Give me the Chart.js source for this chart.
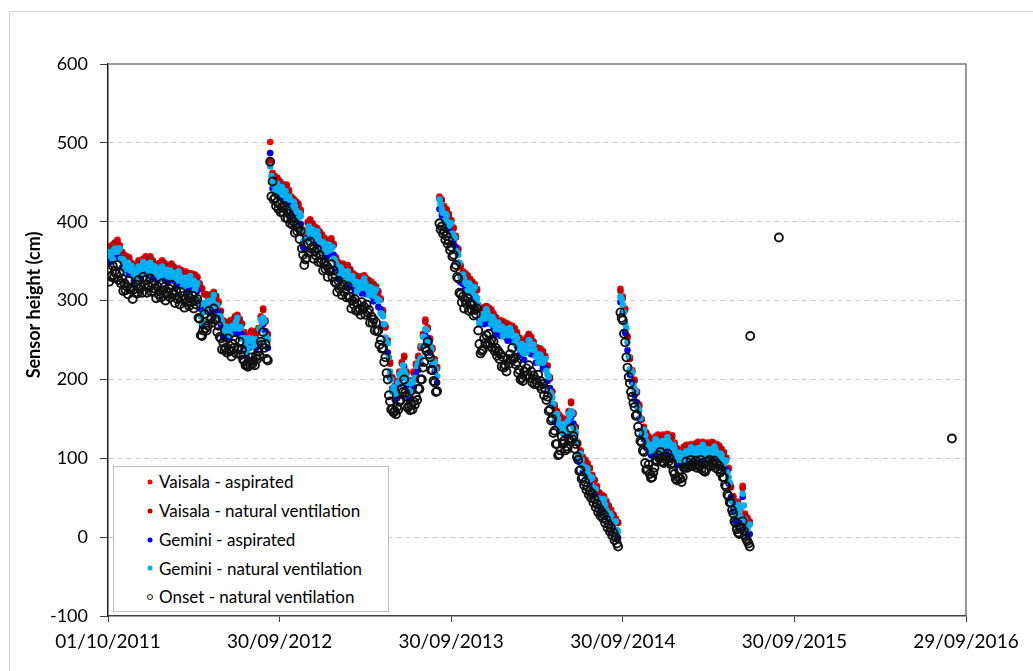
<!DOCTYPE html>
<html>
<head>
<meta charset="utf-8">
<title>Sensor height</title>
<script src="https://cdn.jsdelivr.net/npm/chart.js@4.4.1/dist/chart.umd.min.js"></script>
<style>
  html, body { margin: 0; padding: 0; background: #fff; }
  #wrap { position: relative; width: 1033px; height: 671px; overflow: hidden; background: #fff; }
  #frame { position: absolute; left: 9px; top: 11px; width: 1100px; height: 700px; border-left: 1px solid #d6d6d6; border-top: 1px solid #d6d6d6; }
  #chart { position: absolute; left: 0; top: 0; }
  #legend { position: absolute; left: 113px; top: 466px; width: 274px; height: 144px; border: 1px solid #bfbfbf; background: #fff;
            font-family: Lato, "Open Sans", sans-serif; font-size: 17px; color: #000; }
  #legend .row { position: absolute; left: 0; height: 29px; line-height: 29px; white-space: nowrap; }
  #legend .mk { position: absolute; top: 50%; border-radius: 50%; transform: translate(-50%, -50%); }
  #legend .txt { position: absolute; left: 45px; top: 0; }
</style>
</head>
<body>
<div id="wrap">
  <div id="frame"></div>
  <canvas id="chart" width="1033" height="671"></canvas>
  <div id="legend"></div>
</div>
<script>
// Day offsets counted from 01/10/2011; readings every 5 days within each record segment
const sampleStepDays = 5;
const halfStepDays = 2.5;
const segmentStartDays = [0, 345, 705, 1090];

const xTickDays = [0, 365, 730, 1095, 1460, 1825];
const xTickLabels = ['01/10/2011', '30/09/2012', '30/09/2013', '30/09/2014', '30/09/2015', '29/09/2016'];
const yTitle = 'Sensor height (cm)';

const seriesNames = [
  'Vaisala - aspirated',
  'Vaisala - natural ventilation',
  'Gemini - aspirated',
  'Gemini - natural ventilation',
  'Onset - natural ventilation'
];

// Vaisala, aspirated (cm)
const vaisalaAspirated = [
  [366,369,371,374,377,370,362,358,356,355, 348,344,346,351,350,353,356,353,356,351,
   347,345,348,351,348,343,345,347,343,340, 341,339,336,337,335,335,334,333,330,322,
   316,309,308,307,308,311,306,299,287,275, 271,273,275,276,280,282,277,271,260,250,
   256,262,261,258,265,280,290,275,258],
  [501,462,458,456,452,448,446,447,440,432, 429,426,423,415,390,380,400,403,398,394,
   392,388,384,380,377,375,379,372,355,349, 346,347,343,345,340,335,333,331,330,331,
   332,328,326,324,321,318,312,303,288,268, 250,222,203,192,198,210,222,230,210,197,
   199,210,220,230,242,258,276,266,252,240, 226,216],
  [432,428,420,416,410,402,393,382,366,345, 337,335,332,328,324,321,315,290,289,292,
   293,291,289,284,279,276,275,274,272,271, 269,268,265,260,253,249,245,253,258,254,
   248,241,240,239,236,230,218,203,185,168, 160,155,152,149,150,160,172,158,140,120,
   110,102,98,94,88,79,73,65,57,54, 52,46,40,35,29,24,19],
  [315,305,290,255,228,212,200,185,168,150, 140,133,128,122,125,128,130,127,130,128,
   131,127,129,120,113,111,110,115,117,114, 118,116,119,121,118,121,119,120,117,121,
   119,118,116,112,108,101,88,65,52,42, 45,38,65,30,25,20]
];

// Vaisala, natural ventilation (cm)
const vaisalaNatural = [
  [364,368,369,373,375,369,361,356,355,353, 347,343,344,349,349,352,354,352,354,350,
   346,343,347,349,347,342,343,346,342,339, 339,338,335,335,334,333,333,331,329,320,
   315,308,306,306,307,309,305,297,286,274, 270,271,274,275,278,281,276,270,258,249,
   255,260,260,257,263,278,288,273,257],
  [476,460,456,455,450,447,444,446,438,431, 427,425,421,413,388,378,398,401,397,392,
   390,387,382,378,376,373,377,370,353,347, 345,345,342,343,339,333,332,329,329,329,
   331,326,325,322,320,316,310,301,286,266, 248,220,201,190,196,208,220,228,208,195,
   197,208,218,228,240,256,273,264,250,238, 224,214],
  [430,427,418,415,408,401,391,380,364,343, 336,333,331,326,323,319,313,288,288,290,
   292,289,288,282,278,274,274,272,271,269, 268,266,264,258,252,247,244,251,257,252,
   247,239,239,237,235,228,217,201,184,166, 159,153,151,147,149,158,170,156,139,118,
   109,100,97,92,87,77,72,63,56,52, 51,44,39,33,28,22,18],
  [312,303,288,253,226,210,198,183,166,149, 138,131,126,121,123,126,128,125,128,126,
   129,126,127,118,112,109,108,113,115,112, 116,114,117,119,116,119,117,118,115,119,
   117,116,114,110,106,99,86,63,50,40, 43,36,62,28,23,18]
];

// Gemini, aspirated (cm)
const geminiAspirated = [
  [350,349,357,356,355,354,342,344,338,333, 332,324,332,333,328,337,336,339,338,329,
   331,325,334,333,326,327,325,333,325,318, 325,319,322,319,313,319,314,319,312,290,
   268,289,294,289,286,295,286,285,269,253, 255,253,261,258,258,266,257,257,242,228,
   240,242,247,240,243,264,270,261,240],
  [487,442,444,438,430,432,426,433,422,410, 413,406,409,397,368,364,380,389,380,372,
   376,368,370,362,355,359,359,358,337,327, 330,327,329,327,318,319,313,317,312,309,
   316,308,312,306,299,302,292,289,270,246, 234,202,189,174,176,194,202,216,192,175,
   183,190,206,212,220,242,256,252,234,218, 210,196],
  [416,408,406,398,388,386,373,368,348,323, 321,315,318,310,302,305,295,276,271,270,
   277,271,275,266,257,260,255,260,254,249, 253,248,251,242,231,233,225,239,240,232,
   232,221,226,221,214,214,198,189,167,146, 144,135,138,131,128,144,152,144,122,98,
   94,82,84,76,66,63,53,51,39,32, 36,26,26,17,7,8,-1],
  [298,285,259,237,206,196,180,171,150,128, 124,113,114,104,103,112,110,113,112,106,
   115,107,115,102,91,95,90,101,99,92, 102,96,105,103,96,105,99,106,99,99,
   103,98,102,94,86,85,68,51,34,20, 29,18,51,12,3,4]
];

// Gemini, natural ventilation (cm): grid-date readings
const geminiNatural = [
  [362,357,352,366,362,366,350,339,348,340, 344,332,327,343,335,349,344,334,348,336,
   343,333,329,343,333,339,333,328,335,325, 337,327,317,329,320,331,322,314,322,295,
   272,297,289,299,293,307,294,280,279,260, 267,261,256,268,265,278,265,252,252,235,
   252,250,242,250,250,276,278,256,250],
  [470,450,439,448,437,444,434,428,432,417, 425,414,404,407,375,376,388,384,390,379,
   388,376,365,372,362,371,367,353,347,334, 342,335,324,337,325,331,321,312,322,316,
   328,316,307,316,306,314,300,284,280,253, 246,210,184,184,183,206,210,211,202,182,
   195,198,201,222,227,254,264,247,244,225, 222,204],
  [428,416,401,408,395,398,381,363,358,330, 333,323,313,320,309,317,303,271,281,277,
   289,279,270,276,264,272,263,255,264,256, 265,256,246,252,238,245,233,234,250,239,
   244,229,221,231,221,226,206,184,177,153, 156,143,133,141,135,156,160,139,132,105,
   106,90,79,86,73,75,61,46,49,39, 48,34,21,27,14,20,7],
  [305,295,271,247,213,208,188,166,160,135, 136,121,109,114,110,124,118,108,122,113,
   127,115,110,112,98,107,98,96,109,99, 114,104,100,113,103,117,107,101,109,106,
   115,106,97,104,93,97,76,46,44,27, 41,26,55,22,10,16]
];
// Gemini, natural ventilation (cm): readings halfway between grid dates
const geminiNaturalHalfStep = [
  [360,357,364,362,366,353,352,344,348,338, 338,332,340,337,343,341,346,341,345,336,
   338,333,341,336,337,331,338,332,333,327, 332,324,328,323,327,321,325,318,300,280,
   285,295,299,294,301,295,294,280,273,260, 264,261,267,265,273,266,266,252,247,240,
   251,248,251,248,264,272,274,253],
  [458,447,449,441,442,434,439,431,428,418, 420,412,411,390,377,377,394,388,388,380,
   382,373,374,366,368,364,368,351,344,335, 339,332,336,330,330,321,324,318,323,319,
   322,314,317,310,312,302,300,283,270,246, 228,200,190,182,196,203,218,207,196,185,
   197,202,217,223,242,254,263,246,238,220, 213],
  [422,411,410,400,398,385,380,361,348,328, 328,321,322,313,315,305,295,277,283,280,
   284,277,279,269,270,263,267,260,264,257, 261,254,255,244,243,234,241,243,248,238,
   237,228,232,225,225,211,203,181,169,151, 150,141,143,137,147,153,157,136,122,102,
   98,87,88,78,76,63,61,48,48,40, 41,30,30,19,19,9],
  [302,285,265,229,212,193,185,164,151,132, 129,118,117,111,119,116,121,116,121,117,
   121,115,117,104,104,98,105,103,108,103, 109,105,112,107,112,107,112,106,111,107,
   111,104,106,97,97,82,69,46,39,31, 34,39,40,15,15]
];

// Onset, natural ventilation (cm): grid-date readings
const onsetNatural = [
  [340,331,344,338,345,335,328,322,318,325, 316,314,320,326,318,330,326,320,328,322,
   315,318,312,322,317,310,315,320,309,312, 305,311,306,302,308,303,306,300,302,277,
   255,283,262,287,278,290,276,268,252,247, 240,252,236,245,250,240,248,238,224,219,
   222,228,224,230,235,248,260,245,224],
  [476,451,430,425,422,418,420,415,410,405, 400,396,392,388,358,352,372,375,368,362,
   365,358,352,348,344,340,346,338,322,325, 318,320,314,318,305,300,302,296,290,298,
   292,295,288,280,276,272,262,250,240,228, 200,172,162,160,165,172,188,200,178,166,
   168,172,178,188,200,215,240,248,228,212, 196,185],
  [398,394,388,382,376,368,358,345,328,308, 305,300,303,296,294,288,290,245,236,252,
   256,258,250,248,240,236,232,228,218,226, 232,240,228,222,212,202,210,214,218,210,
   205,200,206,198,194,188,178,162,150,135, 118,105,128,122,115,125,138,128,118,98,
   85,76,70,64,58,55,48,42,36,32, 28,22,16,12,6,0,-12],
  [285,275,247,215,195,178,165,155,132,120, 108,85,92,75,82,98,104,108,95,102,
   106,100,94,80,72,85,70,88,96,90, 98,94,97,92,98,94,83,96,98,95,
   97,93,90,85,76,64,52,44,30,18, 6,12,20,2,-5,-12]
];
// Onset, natural ventilation (cm): readings halfway between grid dates
const onsetNaturalHalfStep = [
  [324,330,329,334,326,322,312,313,308,314, 302,310,309,315,310,320,310,317,311,312,
   303,308,304,313,300,306,304,308,297,302, 295,302,291,298,293,298,290,295,278,256,
   262,265,268,276,272,276,260,254,238,237, 234,238,229,240,233,238,231,225,218,216,
   218,220,218,226,230,244,240,226],
  [432,428,420,416,412,412,405,404,398,396, 386,388,378,366,345,354,361,366,353,357,
   349,349,338,340,330,337,330,324,311,315, 307,311,304,305,290,295,287,287,282,289,
   282,285,272,272,262,261,244,239,222,208, 180,162,158,156,162,174,184,183,164,161,
   162,168,174,188,200,222,236,232,212,198, 184],
  [390,385,377,372,364,356,342,330,310,298, 290,296,287,289,281,283,262,233,238,246,
   245,246,240,236,230,226,216,215,210,220, 225,226,219,208,200,198,204,206,202,196,
   194,195,192,188,180,174,160,148,132,118, 104,110,118,110,112,122,124,112,102,84,
   74,66,60,54,50,44,38,32,27,24, 18,12,7,2,-4,-8],
  [278,258,228,203,184,170,154,140,122,110, 94,86,80,76,88,96,100,96,94,98,
   96,92,84,74,76,74,76,88,88,90, 90,91,88,90,86,84,86,92,90,92,
   88,86,82,76,66,54,44,34,20,10, 4,12,8,-2,-8]
];
// Isolated Onset readings after the main record
const onsetLateDays = [1366, 1427, 1795];
const onsetLateValues = [255, 380, 125];

function toPoints(segments, offset = 0) {
  const pts = [];
  segments.forEach((vals, s) => {
    vals.forEach((v, i) => pts.push({ x: segmentStartDays[s] + offset + i * sampleStepDays, y: v }));
  });
  return pts;
}

const FONT = 'Lato, "Open Sans", sans-serif';

const styles = [
  { fill: '#ff0000', stroke: '#ff0000', r: 3.3, bw: 0, order: 4 },
  { fill: '#c00000', stroke: '#c00000', r: 3.3, bw: 0, order: 3 },
  { fill: '#0000ff', stroke: '#0000ff', r: 3.3, bw: 0, order: 2 },
  { fill: '#00b0f0', stroke: '#00b0f0', r: 3.3, bw: 0, order: 1 },
  { fill: 'rgba(0,0,0,0)', stroke: '#111111', r: 4.0, bw: 1.9, order: 0 }
];
const seriesData = [
  toPoints(vaisalaAspirated),
  toPoints(vaisalaNatural),
  toPoints(geminiAspirated),
  toPoints(geminiNatural).concat(toPoints(geminiNaturalHalfStep, halfStepDays)),
  toPoints(onsetNatural)
    .concat(toPoints(onsetNaturalHalfStep, halfStepDays))
    .concat(onsetLateDays.map((d, i) => ({ x: d, y: onsetLateValues[i] })))
];

const datasets = seriesNames.map((name, i) => ({
  label: name,
  data: seriesData[i],
  order: styles[i].order,
  pointStyle: 'circle',
  pointRadius: styles[i].r,
  pointBackgroundColor: styles[i].fill,
  pointBorderColor: styles[i].stroke,
  pointBorderWidth: styles[i].bw,
  showLine: false
}));

// Plot frame (top and right edges) and the rotated y-axis title
const plotFrame = {
  id: 'plotFrame',
  afterDraw(chart) {
    const { ctx, chartArea: a } = chart;
    ctx.save();
    ctx.strokeStyle = '#7a7a7a';
    ctx.lineWidth = 1.5;
    ctx.beginPath();
    ctx.moveTo(a.left, a.top);
    ctx.lineTo(a.right, a.top);
    ctx.lineTo(a.right, a.bottom);
    ctx.stroke();
    ctx.translate(34, 305);
    ctx.rotate(-Math.PI / 2);
    ctx.font = 'bold 18px ' + FONT;
    ctx.fillStyle = '#000';
    ctx.textAlign = 'center';
    ctx.textBaseline = 'middle';
    ctx.fillText(yTitle, 0, 0);
    ctx.restore();
  }
};

new Chart(document.getElementById('chart'), {
  type: 'scatter',
  data: { datasets },
  plugins: [plotFrame],
  options: {
    responsive: false,
    animation: false,
    devicePixelRatio: 1,
    events: [],
    layout: { padding: { left: 0, right: 67, top: 64, bottom: 0 } },
    plugins: { legend: { display: false }, tooltip: { enabled: false } },
    scales: {
      x: {
        type: 'linear',
        min: xTickDays[0],
        max: xTickDays[xTickDays.length - 1],
        afterBuildTicks: s => { s.ticks = xTickDays.map(v => ({ value: v })); },
        afterFit: s => { s.height = 55; },
        ticks: {
          autoSkip: false, maxRotation: 0, padding: 8, color: '#000',
          font: { family: FONT, size: 19 },
          callback: v => xTickLabels[xTickDays.indexOf(v)]
        },
        grid: { drawOnChartArea: false, drawTicks: true, tickLength: 6, tickColor: '#404040', color: '#404040' },
        border: { display: true, color: '#404040', width: 1.5 }
      },
      y: {
        min: -100,
        max: 600,
        afterFit: s => { s.width = 108; },
        ticks: { stepSize: 100, padding: 12, color: '#000', font: { family: FONT, size: 18 } },
        grid: {
          drawTicks: true, tickLength: 8, tickColor: '#404040', lineWidth: 1,
          color: c => (c.tick && (c.tick.value === 600 || c.tick.value === -100)) ? 'rgba(0,0,0,0)' : '#cfcfcf',
          borderDash: [5, 4]
        },
        border: { display: true, color: '#202020', width: 1.5, dash: [5, 4] }
      }
    }
  }
});

// Legend box
const legend = document.getElementById('legend');
const rowCenters = [14.5, 43.5, 72.5, 101, 129.5];
seriesNames.forEach((name, i) => {
  const row = document.createElement('div');
  row.className = 'row';
  row.style.top = (rowCenters[i] - 14.5) + 'px';
  row.style.width = '100%';
  const mk = document.createElement('span');
  mk.className = 'mk';
  mk.style.left = '36px';
  if (i === 4) {
    mk.style.width = '4px'; mk.style.height = '4px';
    mk.style.border = '1.3px solid ' + styles[i].stroke;
  } else {
    mk.style.width = '5px'; mk.style.height = '5px';
    mk.style.background = styles[i].fill;
  }
  const txt = document.createElement('span');
  txt.className = 'txt';
  txt.textContent = name;
  row.appendChild(mk);
  row.appendChild(txt);
  legend.appendChild(row);
});
</script>
</body>
</html>
